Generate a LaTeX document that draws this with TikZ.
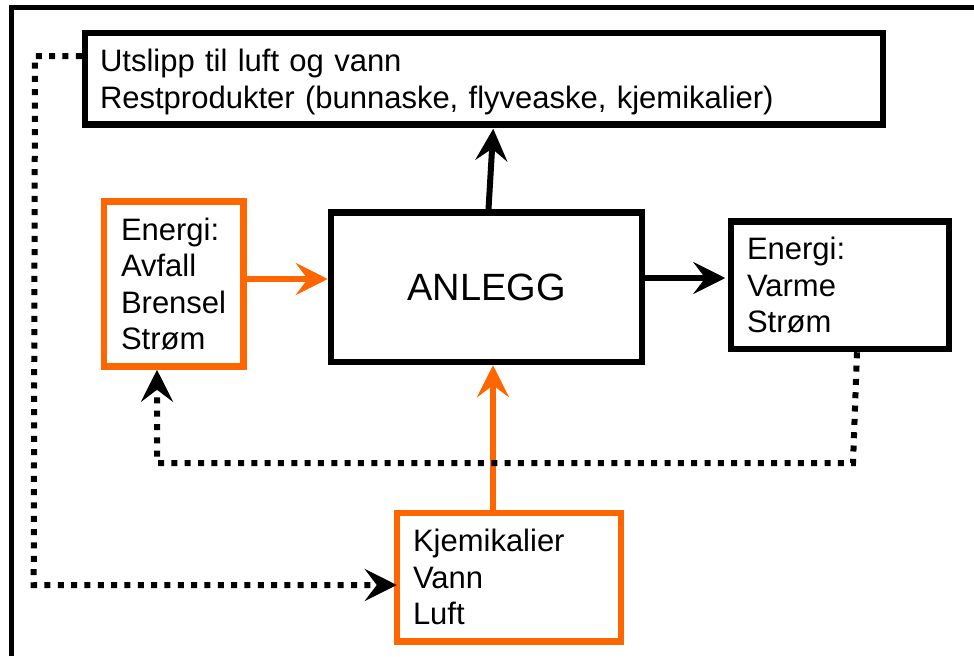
\documentclass[tikz,border=0pt]{standalone}
\usepackage{fontspec}
\setmainfont{Liberation Sans}
\usetikzlibrary{arrows.meta,calc}
\definecolor{orng}{RGB}{255,102,0}
\begin{document}
\begin{tikzpicture}[x=1pt,y=-1pt,
  box/.style={draw=black,line width=6.5pt,inner sep=0pt,align=left,
    font=\fontsize{31}{36.5}\selectfont},
  obox/.style={box,draw=orng},
  tipshape/.style={-{Stealth[length=32pt,width=32pt,inset=12pt]}},
  barrow/.style={line width=6pt,tipshape,draw=black},
  oarrow/.style={line width=6pt,tipshape,draw=orng},
  dotline/.style={line width=6pt,dash pattern=on 6pt off 7.33pt,tipshape,draw=black}
]
\useasboundingbox (0,0) rectangle (974,656);
\fill[white] (0,0) rectangle (974,656);
% outer frame
\draw[line width=4.5pt] (11.7,656) -- (11.7,7.5) -- (974,7.5);

% boxes
\node[box,minimum width=798pt,minimum height=91.5pt,text width=768pt] (top) at (484,78.75)
  {Utslipp til luft og vann\\\smash{Restprodukter (bunnaske, flyveaske, kjemikalier)}};
\node[obox,minimum width=139.7pt,minimum height=165pt,text width=105.7pt] (lbox) at (173.85,284)
  {Energi:\\Avfall\\Brensel\\Strøm};
\node[box,minimum width=311pt,minimum height=149.5pt,align=center,
  font=\fontsize{38}{45}\selectfont] (anlegg) at (486.5,287.25) {ANLEGG};
\node[box,minimum width=218pt,minimum height=127.3pt,text width=186pt] (rbox) at (840,285.35)
  {Energi:\\Varme\\Strøm};
\node[obox,minimum width=224pt,minimum height=128.5pt,text width=192pt] (bbox) at (509,577.25)
  {Kjemikalier\\Vann\\Luft};

% corner coordinates of the dotted returns
\coordinate (c1) at (853,463);
\coordinate (c2) at (157,463);
\coordinate (c3) at (35,56);
\coordinate (c4) at (33.7,585);

% solid arrows
\draw[oarrow] ([yshift=5pt]lbox.east) -- ([yshift=8.25pt]anlegg.west);
\draw[barrow,shorten >=1pt] ([xshift=2pt]anlegg.north) -- ([xshift=9.3pt]top.south);
\draw[barrow,shorten >=2.5pt] ([yshift=9.25pt]anlegg.east) -- ([yshift=7.35pt]rbox.west);
\draw[oarrow] ([xshift=-16pt]bbox.north) -- ([xshift=6.5pt]anlegg.south);

% dotted returns
\draw[dotline] ([xshift=17pt]rbox.south) -- (c1) -- (c2) -- ([xshift=-16.85pt]lbox.south);
\draw[dotline] ([yshift=22.75pt]top.west) -- (c3) -- (c4) -- ([xshift=3pt,yshift=-7.75pt]bbox.west);
\end{tikzpicture}
\end{document}
